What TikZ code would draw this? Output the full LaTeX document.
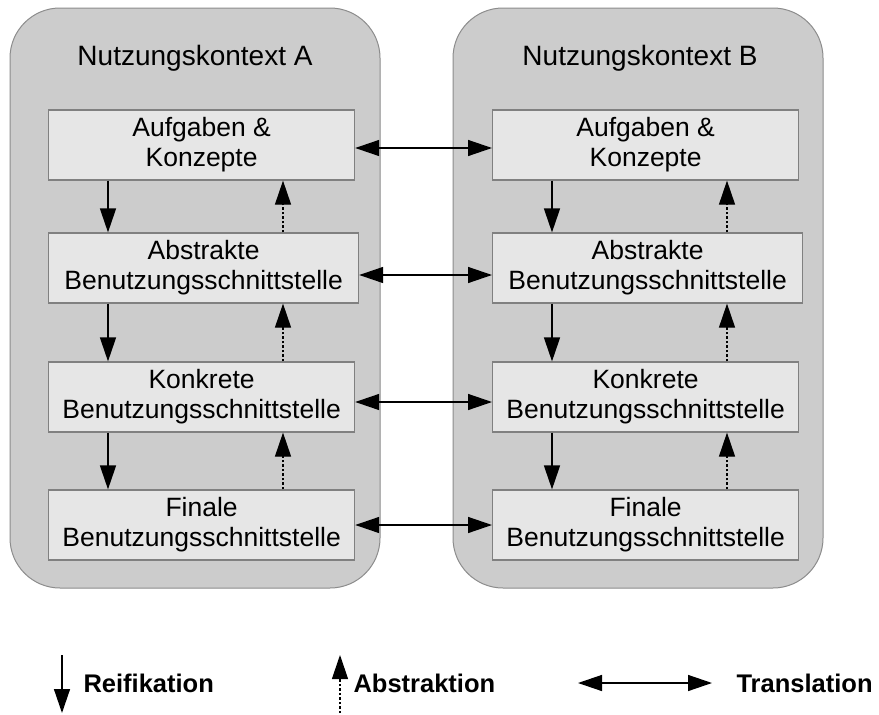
\documentclass[tikz,border=0pt]{standalone}
\usepackage{fontspec}
\setmainfont{Liberation Sans}
\usetikzlibrary{arrows.meta}
\definecolor{ctxgray}{HTML}{CCCCCC}
\definecolor{boxgray}{HTML}{E6E6E6}
\tikzset{
	ctxA/.style={
		draw=black!45, fill=ctxgray, line width=1pt, rounded corners=50pt,
		minimum width=370pt, minimum height=580pt, inner sep=0pt
	},
	ebene/.style={
		draw=black!50, fill=boxgray, line width=1.2pt, align=center, anchor=west,
		minimum width=306pt, minimum height=70pt, inner sep=0pt,
		font={\fontsize{26.5}{30}\selectfont}
	},
	titel/.style={font={\fontsize{28}{32}\selectfont}},
	legende/.style={anchor=west, font={\fontsize{25.5}{30}\selectfont\bfseries}},
	tip/.style={-{Triangle[length=24pt,width=16pt]}},
	reif/.style={tip, line width=1.4pt},
	abst/.style={tip, line width=1.2pt, dash pattern=on 2.5pt off 2pt},
	trans/.style={{Triangle[length=24pt,width=16pt]}-{Triangle[length=24pt,width=16pt]}, line width=1.4pt},
}
\def\dxR{60pt}
\def\dxA{235pt}
\begin{document}
\begin{tikzpicture}[x=1pt, y=-1pt]
\useasboundingbox (0,0) rectangle (879,715);
% Nutzungskontexte
\node[ctxA] (ctxa) at (195,298) {};
\node[ctxA] (ctxb) at (638,298) {};
\node[titel] (ta) at (195,58) {Nutzungskontext A};
\node[titel] (tb) at (640,58) {Nutzungskontext B};
% Ebenen
\node[ebene] (a1) at (48,145) {Aufgaben \&\\Konzepte};
\node[ebene, minimum width=310pt] (a2) at (48,268) {Abstrakte\\Benutzungsschnittstelle};
\node[ebene] (a3) at (48,397) {Konkrete\\Benutzungsschnittstelle};
\node[ebene] (a4) at (48,525) {Finale\\Benutzungsschnittstelle};
\node[ebene] (b1) at (492,145) {Aufgaben \&\\Konzepte};
\node[ebene, minimum width=310pt] (b2) at (492,268) {Abstrakte\\Benutzungsschnittstelle};
\node[ebene] (b3) at (492,397) {Konkrete\\Benutzungsschnittstelle};
\node[ebene] (b4) at (492,525) {Finale\\Benutzungsschnittstelle};
% Pfeile
\foreach \k/\n in {a1/a2, a2/a3, a3/a4, b1/b2, b2/b3, b3/b4} {
	\draw[reif] ([xshift=\dxR]\k.south west) -- ([xshift=\dxR]\n.north west);
	\draw[abst] ([xshift=\dxA]\n.north west) -- ([xshift=\dxA]\k.south west);
}
\foreach \i/\dy in {1/3, 2/7, 3/5, 4/0}
	\draw[trans] ([yshift=-\dy pt]a\i.east) -- ([yshift=-\dy pt]b\i.west);
% Legende
\coordinate (r1) at (62,655); \coordinate (r2) at (62,713);
\coordinate (s1) at (340,713); \coordinate (s2) at (340,655);
\coordinate (t1) at (578,683); \coordinate (t2) at (712,683);
\draw[reif] (r1) -- (r2);
\draw[abst] (s1) -- (s2);
\draw[trans] (t1) -- (t2);
\node[legende] (lr) at (80,683) {Reifikation};
\node[legende] (ls) at (350,683) {Abstraktion};
\node[legende] (lt) at (733,683) {Translation};
\end{tikzpicture}
\end{document}
